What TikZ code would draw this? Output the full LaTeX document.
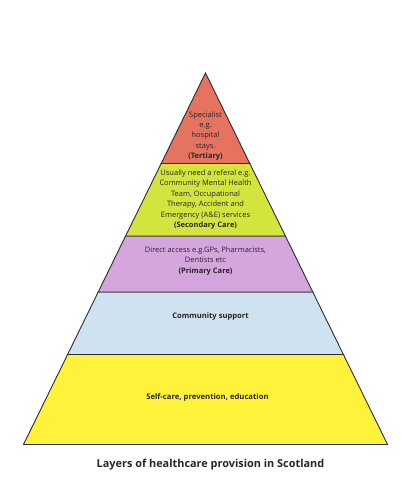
\documentclass[tikz,border=0pt]{standalone}
\usepackage{fontspec}
\setmainfont{Open Sans}
\definecolor{tertiaryred}{HTML}{E6735F}
\definecolor{secondarygreen}{HTML}{D4E43E}
\definecolor{primarypurple}{HTML}{D5A5DE}
\definecolor{communityblue}{HTML}{CFE2F0}
\definecolor{selfyellow}{HTML}{FFF23B}
\definecolor{edgegray}{HTML}{2B2B2B}
\begin{document}
\begin{tikzpicture}[x=1pt, y=-1pt, font=\fontsize{7.5}{10.4}\selectfont,
    layer/.style={draw=edgegray, line width=0.9pt, line join=miter},
    lbl/.style={align=center, inner sep=0pt, text=black!85}]
  \useasboundingbox (0,0) rectangle (402,499);
  % corners of the layers
  \coordinate (apex) at (205.5,73);
  \coordinate (l1) at (161.2,163.5); \coordinate (r1) at (249.8,163.5);
  \coordinate (l2) at (125.6,236);   \coordinate (r2) at (285.4,236);
  \coordinate (l3) at (98.2,292);    \coordinate (r3) at (312.8,292);
  \coordinate (l4) at (67.6,354.5);  \coordinate (r4) at (343.4,354.5);
  \coordinate (l5) at (23.5,444.5);  \coordinate (r5) at (387.5,444.5);
  % layers
  \draw[layer, fill=selfyellow] (l4) -- (r4) -- (r5) -- (l5) -- cycle;
  \draw[layer, fill=communityblue] (l3) -- (r3) -- (r4) -- (l4) -- cycle;
  \draw[layer, fill=primarypurple] (l2) -- (r2) -- (r3) -- (l3) -- cycle;
  \draw[layer, fill=secondarygreen] (l1) -- (r1) -- (r2) -- (l2) -- cycle;
  \draw[layer, fill=tertiaryred] (apex) -- (r1) -- (l1) -- cycle;
  % texts
  \node[lbl] (tertiary) at (205.5,136) {Specialist\\e.g.\\hospital\\stays.\\\textbf{(Tertiary)}};
  \node[lbl] (secondary) at (205.5,199.5) {Usually need a referal e.g.\\Community Mental Health\\Team, Occupational\\Therapy, Accident and\\Emergency (A\&E) services\\\textbf{(Secondary Care)}};
  \node[lbl] (primary) at (205.5,261) {Direct access e.g.GPs, Pharmacists,\\Dentists etc\\\textbf{(Primary Care)}};
  \node[lbl, font=\fontsize{7.6}{10.4}\selectfont\bfseries] (community) at (210.5,317) {Community support};
  \node[lbl, font=\fontsize{7.7}{10.4}\selectfont\bfseries] (selfcare) at (207.5,397) {Self-care, prevention, education};
  \node[lbl, font=\fontsize{10.9}{12}\selectfont\bfseries] (title) at (210.5,465) {Layers of healthcare provision in Scotland};
\end{tikzpicture}
\end{document}
